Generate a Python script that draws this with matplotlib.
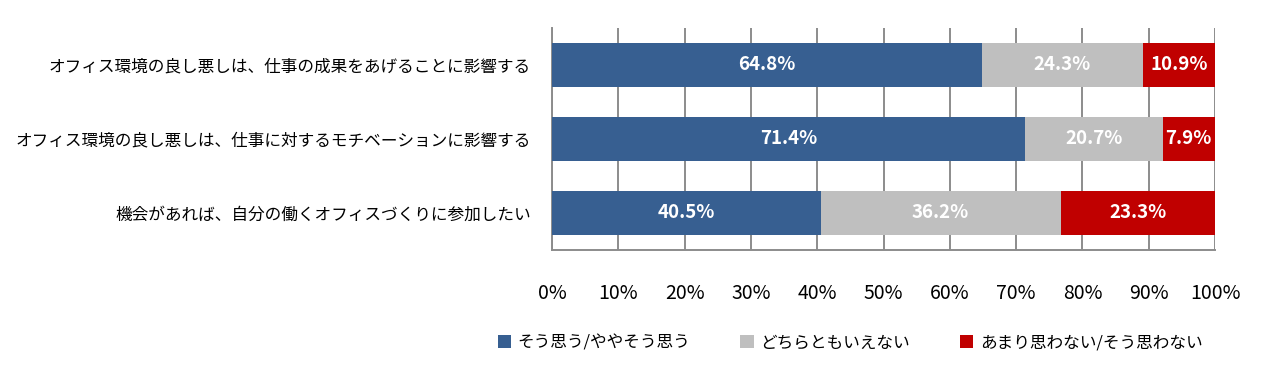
import matplotlib
matplotlib.use("Agg")
import matplotlib.pyplot as plt
from matplotlib.patches import Patch
import numpy as np

plt.rcParams['font.family'] = ['Noto Sans CJK JP', 'DejaVu Sans']

categories = [
    "オフィス環境の良し悪しは、仕事の成果をあげることに影響する",
    "オフィス環境の良し悪しは、仕事に対するモチベーションに影響する",
    "機会があれば、自分の働くオフィスづくりに参加したい",
]
series_names = ["そう思う/ややそう思う", "どちらともいえない", "あまり思わない/そう思わない"]
agree = [64.8, 71.4, 40.5]
neutral = [24.3, 20.7, 36.2]
disagree = [10.9, 7.9, 23.3]
tick_values = [0, 10, 20, 30, 40, 50, 60, 70, 80, 90, 100]
tick_labels = [f"{v}%" for v in tick_values]

colors = ["#375F91", "#BFBFBF", "#C00000"]

fig = plt.figure(figsize=(12.8, 3.77), dpi=100)
ax = fig.add_axes([552/1280, 1-250/377, (1215-552)/1280, (250-28)/377])

y = np.arange(len(categories))
left = np.zeros(len(categories))
for vals, c in zip([agree, neutral, disagree], colors):
    bars = ax.barh(y, vals, left=left, height=0.59, color=c, zorder=3)
    for b, v in zip(bars, vals):
        ax.text(b.get_x() + b.get_width()/2, b.get_y() + b.get_height()/2,
                f"{v}%", ha='center', va='center', color='white',
                fontsize=13.5, fontweight='bold', zorder=4)
    left = left + np.array(vals)

ax.set_xlim(0, 100)
ax.set_ylim(2.5, -0.5)
ax.set_xticks(tick_values)
ax.set_xticklabels(tick_labels, fontsize=14)
ax.set_yticks(y)
ax.set_yticklabels(categories, fontsize=12)
ax.tick_params(axis='x', length=0, pad=24)
ax.tick_params(axis='y', length=0, pad=15)
ax.xaxis.grid(True, color='#8C8C8C', linewidth=1.4, zorder=0)
ax.yaxis.grid(False)
for s in ['top', 'right']:
    ax.spines[s].set_visible(False)
for s in ['left', 'bottom']:
    ax.spines[s].set_color('#8C8C8C')
    ax.spines[s].set_linewidth(1.4)

handles = [Patch(facecolor=c) for c in colors]
fig.legend(handles, series_names, loc='center', bbox_to_anchor=(850/1280, 1-343/377),
           ncol=3, frameon=False, fontsize=12, handlelength=0.8, handleheight=0.8,
           handletextpad=0.4, columnspacing=3.0)

fig.savefig("out.png", dpi=100)
